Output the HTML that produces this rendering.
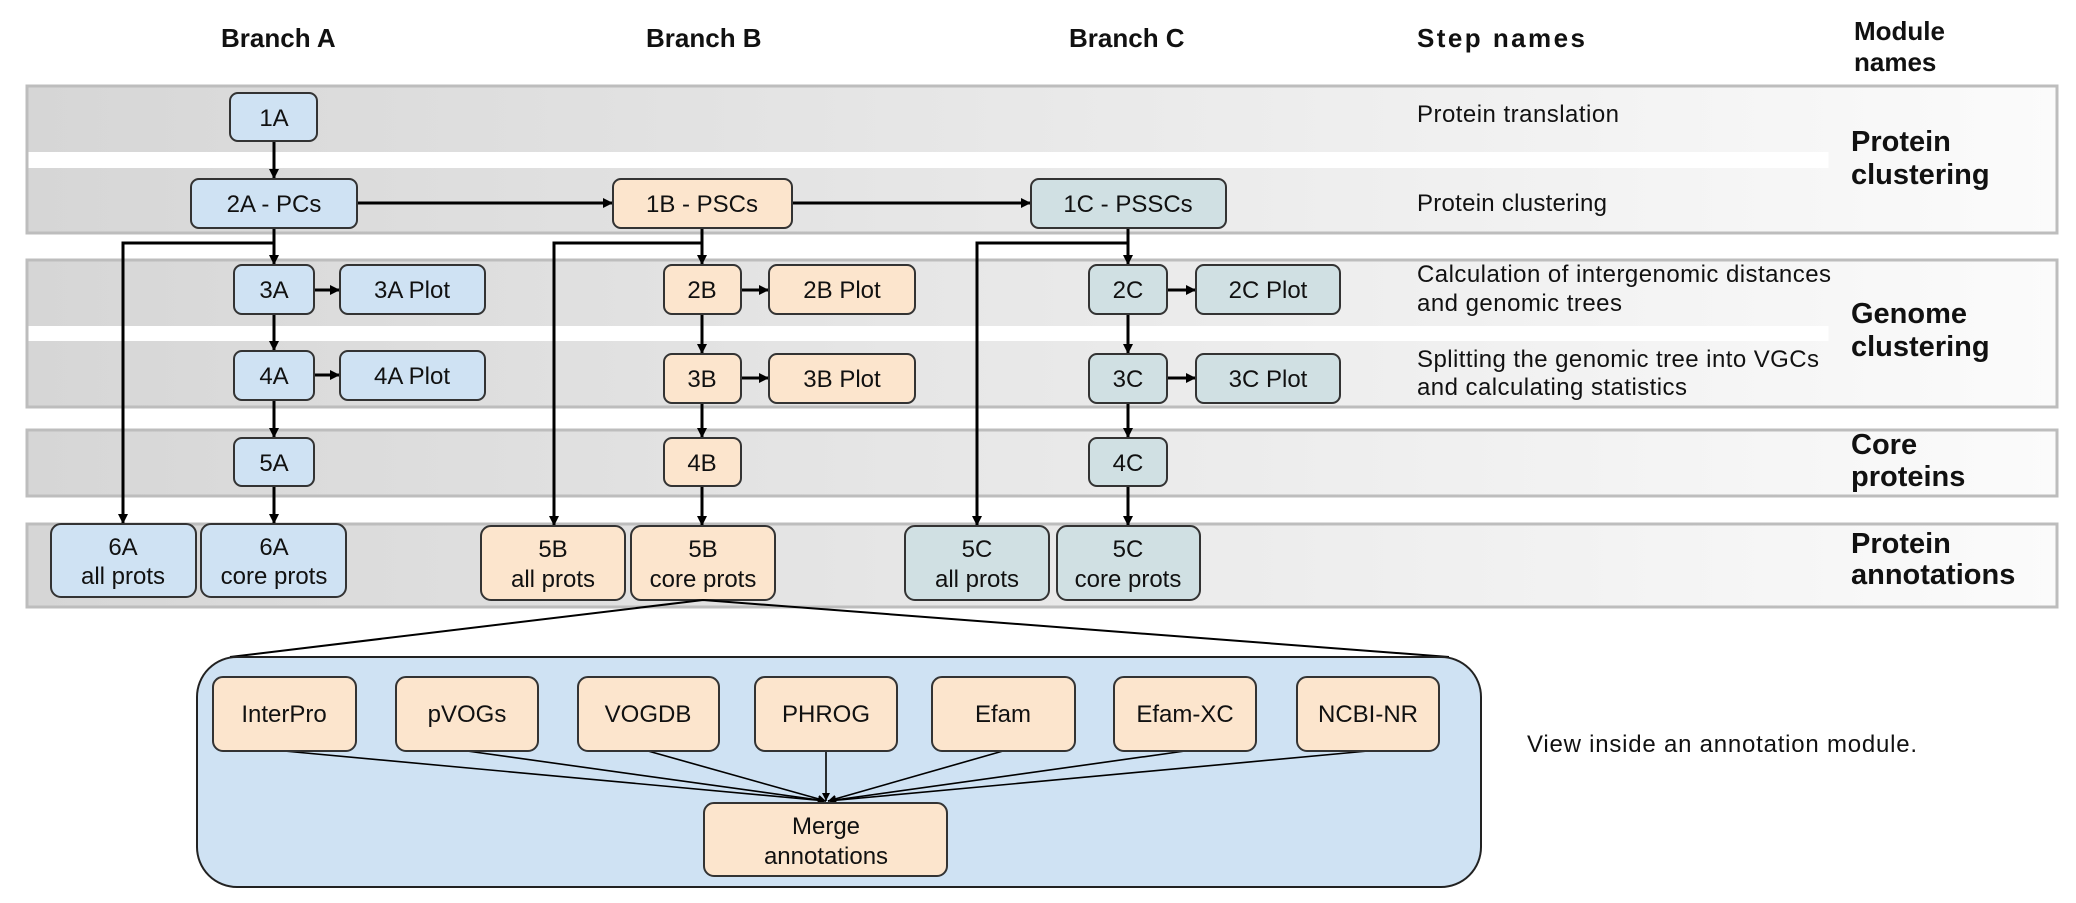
<!DOCTYPE html>
<html><head><meta charset="utf-8"><style>
html,body{margin:0;padding:0;background:#fff;}
svg{display:block;}
text{font-family:"Liberation Sans",Arial,sans-serif;fill:#111;}
.h{font-weight:bold;font-size:26px;}
.m{font-weight:bold;font-size:29px;}
.s{font-size:24px;}
.n{font-size:24px;text-anchor:middle;}
.a{stroke:#000;stroke-width:3;fill:none;marker-end:url(#ah);}
.t{stroke:#000;stroke-width:1.6;fill:none;marker-end:url(#as);}
.b{fill:#cfe2f3;stroke:#333;stroke-width:2;}
.o{fill:#fce5cd;stroke:#333;stroke-width:2;}
.c{fill:#d0e0e3;stroke:#333;stroke-width:2;}
</style></head><body>
<svg width="2076" height="903" viewBox="0 0 2076 903" xmlns="http://www.w3.org/2000/svg">
<defs>
<linearGradient id="g" x1="0" x2="1" y1="0" y2="0"><stop offset="0" stop-color="#d6d6d6"/><stop offset="1" stop-color="#fbfbfb"/></linearGradient>
<marker id="ah" markerWidth="10" markerHeight="10" refX="9" refY="5" orient="auto" markerUnits="userSpaceOnUse" viewBox="0 0 10 10"><path d="M0,0 L10,5 L0,10 z" fill="#000"/></marker>
<marker id="as" markerWidth="8" markerHeight="8" refX="8" refY="4" orient="auto" markerUnits="userSpaceOnUse" viewBox="0 0 8 8"><path d="M0,0 L8,4 L0,8 z" fill="#000"/></marker>
</defs>

<text class="h" x="221" y="47">Branch A</text>
<text class="h" x="646" y="47">Branch B</text>
<text class="h" x="1069" y="47">Branch C</text>
<text class="h" x="1417" y="47" textLength="168">Step names</text>
<text class="h" x="1854" y="40">Module</text>
<text class="h" x="1854" y="71">names</text>

<rect x="27" y="86" width="2030" height="147" fill="url(#g)" stroke="#bdbdbd" stroke-width="3"/>
<rect x="28.5" y="152" width="1800" height="16" fill="#fff"/>
<rect x="27" y="260" width="2030" height="147" fill="url(#g)" stroke="#bdbdbd" stroke-width="3"/>
<rect x="28.5" y="326" width="1800" height="15" fill="#fff"/>
<rect x="27" y="430" width="2030" height="66" fill="url(#g)" stroke="#bdbdbd" stroke-width="3"/>
<rect x="27" y="524" width="2030" height="83" fill="url(#g)" stroke="#bdbdbd" stroke-width="3"/>

<text class="s" x="1417" y="122" textLength="202">Protein translation</text>
<text class="s" x="1417" y="211" textLength="190">Protein clustering</text>
<text class="s" x="1417" y="282" textLength="414">Calculation of intergenomic distances</text>
<text class="s" x="1417" y="311" textLength="205">and genomic trees</text>
<text class="s" x="1417" y="367" textLength="402">Splitting the genomic tree into VGCs</text>
<text class="s" x="1417" y="395" textLength="270">and calculating statistics</text>

<text class="m" x="1851" y="151">Protein</text>
<text class="m" x="1851" y="184">clustering</text>
<text class="m" x="1851" y="323">Genome</text>
<text class="m" x="1851" y="356">clustering</text>
<text class="m" x="1851" y="454">Core</text>
<text class="m" x="1851" y="486">proteins</text>
<text class="m" x="1851" y="553">Protein</text>
<text class="m" x="1851" y="584">annotations</text>

<path class="a" d="M274,141 V178"/>
<path class="a" d="M357,203 H612"/>
<path class="a" d="M792,203 H1030"/>
<path class="a" d="M274,228 V264"/>
<path class="a" d="M274,243 H123 V523"/>
<path class="a" d="M314,290 H339"/>
<path class="a" d="M274,314 V350"/>
<path class="a" d="M314,375 H339"/>
<path class="a" d="M274,400 V437"/>
<path class="a" d="M274,486 V523"/>

<path class="a" d="M702,228 V264"/>
<path class="a" d="M702,243 H554 V525"/>
<path class="a" d="M741,290 H768"/>
<path class="a" d="M702,314 V353"/>
<path class="a" d="M741,378 H768"/>
<path class="a" d="M702,403 V437"/>
<path class="a" d="M702,486 V525"/>

<path class="a" d="M1128,228 V264"/>
<path class="a" d="M1128,243 H977 V525"/>
<path class="a" d="M1167,290 H1195"/>
<path class="a" d="M1128,314 V353"/>
<path class="a" d="M1167,378 H1195"/>
<path class="a" d="M1128,403 V437"/>
<path class="a" d="M1128,486 V525"/>

<rect class="b" x="230" y="93" width="87" height="48" rx="8"/><text class="n" x="274" y="126">1A</text>
<rect class="b" x="191" y="179" width="166" height="49" rx="8"/><text class="n" x="274" y="212">2A - PCs</text>
<rect class="b" x="234" y="265" width="80" height="49" rx="8"/><text class="n" x="274" y="298">3A</text>
<rect class="b" x="340" y="265" width="145" height="49" rx="8"/><text class="n" x="412" y="298">3A Plot</text>
<rect class="b" x="234" y="351" width="80" height="49" rx="8"/><text class="n" x="274" y="384">4A</text>
<rect class="b" x="340" y="351" width="145" height="49" rx="8"/><text class="n" x="412" y="384">4A Plot</text>
<rect class="b" x="234" y="438" width="80" height="48" rx="8"/><text class="n" x="274" y="471">5A</text>
<rect class="b" x="51" y="524" width="145" height="73" rx="10"/><text class="n" x="123" y="555">6A</text><text class="n" x="123" y="584">all prots</text>
<rect class="b" x="201" y="524" width="145" height="73" rx="10"/><text class="n" x="274" y="555">6A</text><text class="n" x="274" y="584">core prots</text>

<rect class="o" x="613" y="179" width="179" height="49" rx="8"/><text class="n" x="702" y="212">1B - PSCs</text>
<rect class="o" x="664" y="265" width="77" height="49" rx="8"/><text class="n" x="702" y="298">2B</text>
<rect class="o" x="769" y="265" width="146" height="49" rx="8"/><text class="n" x="842" y="298">2B Plot</text>
<rect class="o" x="664" y="354" width="77" height="49" rx="8"/><text class="n" x="702" y="387">3B</text>
<rect class="o" x="769" y="354" width="146" height="49" rx="8"/><text class="n" x="842" y="387">3B Plot</text>
<rect class="o" x="664" y="438" width="77" height="48" rx="8"/><text class="n" x="702" y="471">4B</text>
<rect class="o" x="481" y="526" width="144" height="74" rx="10"/><text class="n" x="553" y="557">5B</text><text class="n" x="553" y="587">all prots</text>
<rect class="o" x="631" y="526" width="144" height="74" rx="10"/><text class="n" x="703" y="557">5B</text><text class="n" x="703" y="587">core prots</text>

<rect class="c" x="1031" y="179" width="195" height="49" rx="8"/><text class="n" x="1128" y="212">1C - PSSCs</text>
<rect class="c" x="1089" y="265" width="78" height="49" rx="8"/><text class="n" x="1128" y="298">2C</text>
<rect class="c" x="1196" y="265" width="144" height="49" rx="8"/><text class="n" x="1268" y="298">2C Plot</text>
<rect class="c" x="1089" y="354" width="78" height="49" rx="8"/><text class="n" x="1128" y="387">3C</text>
<rect class="c" x="1196" y="354" width="144" height="49" rx="8"/><text class="n" x="1268" y="387">3C Plot</text>
<rect class="c" x="1089" y="438" width="78" height="48" rx="8"/><text class="n" x="1128" y="471">4C</text>
<rect class="c" x="905" y="526" width="144" height="74" rx="10"/><text class="n" x="977" y="557">5C</text><text class="n" x="977" y="587">all prots</text>
<rect class="c" x="1057" y="526" width="143" height="74" rx="10"/><text class="n" x="1128" y="557">5C</text><text class="n" x="1128" y="587">core prots</text>

<path d="M230,657 L703,600 L1449,657" stroke="#000" stroke-width="2" fill="none"/>
<rect x="197" y="657" width="1284" height="230" rx="40" fill="#cfe2f3" stroke="#222" stroke-width="2"/>
<path class="t" d="M284,751 L826,801"/>
<path class="t" d="M467,751 L826,801"/>
<path class="t" d="M648,751 L826,801"/>
<path class="t" d="M826,751 L826,801"/>
<path class="t" d="M1003,751 L828,801"/>
<path class="t" d="M1185,751 L828,801"/>
<path class="t" d="M1368,751 L828,801"/>
<rect class="o" x="213" y="677" width="143" height="74" rx="10"/><text class="n" x="284" y="722">InterPro</text>
<rect class="o" x="396" y="677" width="142" height="74" rx="10"/><text class="n" x="467" y="722">pVOGs</text>
<rect class="o" x="578" y="677" width="141" height="74" rx="10"/><text class="n" x="648" y="722">VOGDB</text>
<rect class="o" x="755" y="677" width="142" height="74" rx="10"/><text class="n" x="826" y="722">PHROG</text>
<rect class="o" x="932" y="677" width="143" height="74" rx="10"/><text class="n" x="1003" y="722">Efam</text>
<rect class="o" x="1114" y="677" width="142" height="74" rx="10"/><text class="n" x="1185" y="722">Efam-XC</text>
<rect class="o" x="1297" y="677" width="142" height="74" rx="10"/><text class="n" x="1368" y="722">NCBI-NR</text>
<rect class="o" x="704" y="803" width="243" height="73" rx="10"/><text class="n" x="826" y="834">Merge</text><text class="n" x="826" y="864">annotations</text>

<text class="s" x="1527" y="752" textLength="390">View inside an annotation module.</text>
</svg>
</body></html>
